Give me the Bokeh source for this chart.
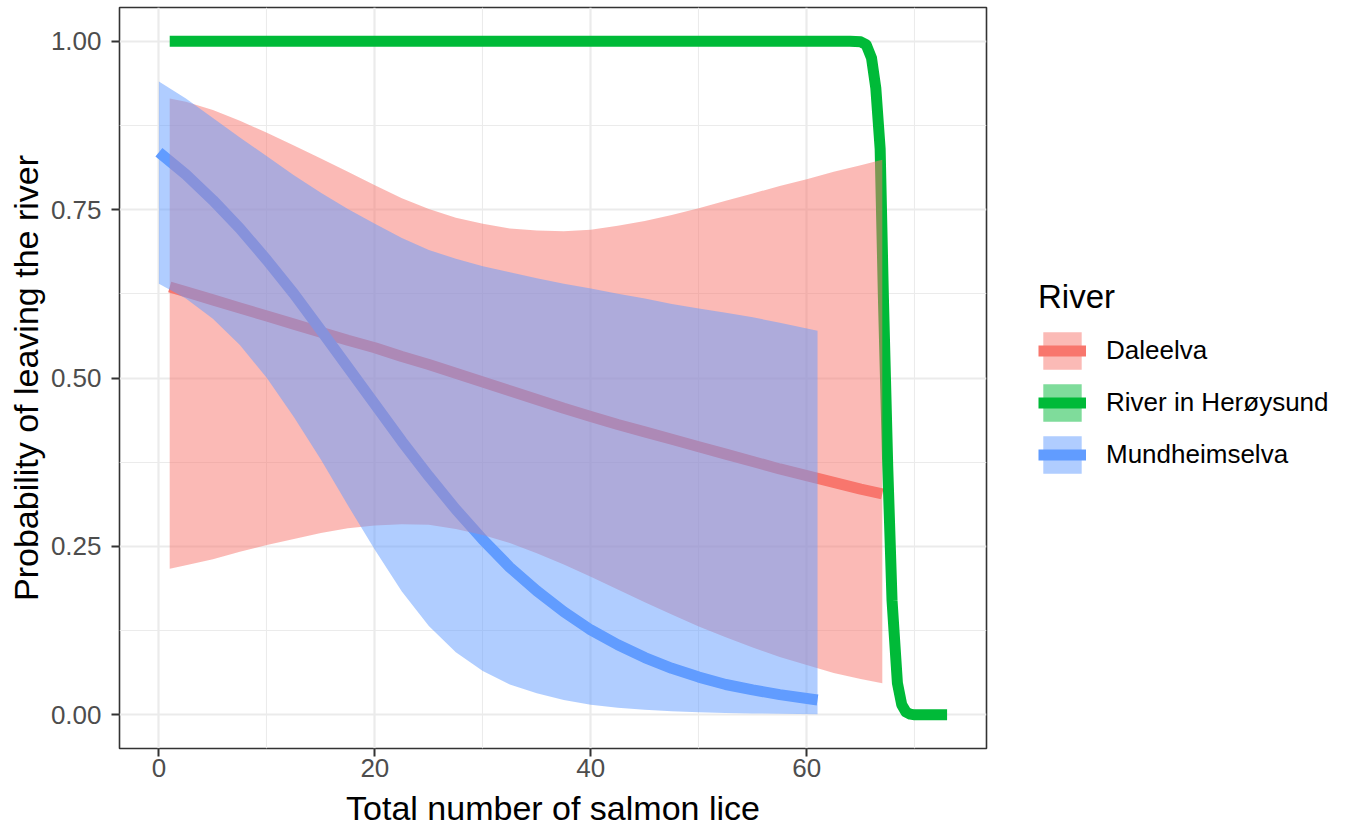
from bokeh.plotting import figure
from bokeh.layouts import row
from bokeh.models import (Range1d, FixedTicker, NumeralTickFormatter, Legend, LegendItem)
from bokeh.embed import file_html
from bokeh.resources import INLINE

# ---------------- data ----------------
rivers = ["Daleelva", "River in Herøysund", "Mundheimselva"]
colors = ["#F8766D", "#00BA38", "#619CFF"]

dale_x = [1, 2.5, 5, 7.5, 10, 12.5, 15, 17.5, 20, 22.5, 25, 27.5, 30, 32.5, 35,
          37.5, 40, 42.5, 45, 47.5, 50, 52.5, 55, 57.5, 60, 62.5, 65, 67]
dale_fit = [0.635, 0.628, 0.616, 0.604, 0.592, 0.580, 0.568, 0.556, 0.545, 0.532,
            0.520, 0.507, 0.494, 0.481, 0.468, 0.455, 0.443, 0.431, 0.420, 0.409,
            0.398, 0.387, 0.376, 0.365, 0.355, 0.345, 0.335, 0.328]
dale_lo = [0.217, 0.222, 0.231, 0.242, 0.252, 0.261, 0.270, 0.277, 0.281, 0.283,
           0.282, 0.276, 0.267, 0.255, 0.240, 0.223, 0.205, 0.186, 0.167, 0.149,
           0.131, 0.115, 0.100, 0.086, 0.074, 0.062, 0.053, 0.047]
dale_hi = [0.915, 0.910, 0.898, 0.882, 0.864, 0.845, 0.826, 0.806, 0.786, 0.767,
           0.751, 0.738, 0.729, 0.722, 0.719, 0.718, 0.720, 0.726, 0.733, 0.742,
           0.752, 0.763, 0.774, 0.785, 0.795, 0.806, 0.816, 0.824]

hero_x = [1, 10, 20, 30, 40, 50, 60, 64, 65, 65.5, 66, 66.4, 66.8, 67.1, 67.5,
          67.9, 68.4, 68.8, 69.2, 69.6, 70, 73]
hero_fit = [1, 1, 1, 1, 1, 1, 1, 1, 0.999, 0.995, 0.975, 0.93, 0.84, 0.62, 0.37,
            0.17, 0.047, 0.015, 0.004, 0.001, 0, 0]

mund_x = [0, 2.5, 5, 7.5, 10, 12.5, 15, 17.5, 20, 22.5, 25, 27.5, 30, 32.5, 35,
          37.5, 40, 42.5, 45, 47.5, 50, 52.5, 55, 57.5, 61]
mund_fit = [0.835, 0.802, 0.764, 0.722, 0.675, 0.625, 0.571, 0.516, 0.461, 0.406,
            0.354, 0.305, 0.260, 0.219, 0.184, 0.153, 0.126, 0.104, 0.085, 0.069,
            0.056, 0.045, 0.037, 0.030, 0.022]
mund_lo = [0.640, 0.618, 0.588, 0.549, 0.500, 0.442, 0.379, 0.311, 0.245, 0.183,
           0.132, 0.093, 0.065, 0.045, 0.032, 0.022, 0.015, 0.0105, 0.0074, 0.0052,
           0.0037, 0.0027, 0.002, 0.0015, 0.001]
mund_hi = [0.940, 0.915, 0.886, 0.857, 0.829, 0.801, 0.775, 0.751, 0.729, 0.708,
           0.690, 0.677, 0.666, 0.657, 0.648, 0.640, 0.633, 0.625, 0.618, 0.610,
           0.603, 0.597, 0.590, 0.582, 0.570]

x_ticks = [0, 20, 40, 60]
x_minor = [10, 30, 50, 70]
y_ticks = [0, 0.25, 0.5, 0.75, 1.0]
y_minor = [0.125, 0.375, 0.625, 0.875]

FONT = "Liberation Sans"

# ---------------- main panel ----------------
p = figure(width=988, height=829, output_backend="svg", toolbar_location=None,
           x_range=Range1d(-3.65, 76.65), y_range=Range1d(-0.05, 1.05),
           min_border_left=119, min_border_right=2, min_border_top=7,
           min_border_bottom=81,
           x_axis_label="Total number of salmon lice",
           y_axis_label="Probability of leaving the river")
p.background_fill_color = "white"
p.border_fill_color = "white"
p.outline_line_color = "#333333"
p.outline_line_width = 1.6

for g in (p.xgrid, p.ygrid):
    g.grid_line_color = "#EBEBEB"
    g.grid_line_width = 2.2
    g.minor_grid_line_color = "#EBEBEB"
    g.minor_grid_line_width = 1.1

p.xaxis.ticker = FixedTicker(ticks=x_ticks, minor_ticks=x_minor)
p.yaxis.ticker = FixedTicker(ticks=y_ticks, minor_ticks=y_minor)
p.yaxis.formatter = NumeralTickFormatter(format="0.00")

for ax in (p.xaxis, p.yaxis):
    ax.axis_line_color = None
    ax.major_tick_line_color = "#333333"
    ax.major_tick_line_width = 2
    ax.major_tick_out = 8
    ax.major_tick_in = 0
    ax.minor_tick_line_color = None
    ax.major_label_text_font = FONT
    ax.major_label_text_font_size = "26px"
    ax.major_label_text_color = "#4D4D4D"
    ax.axis_label_text_font = FONT
    ax.axis_label_text_font_size = "34px"
    ax.axis_label_text_font_style = "normal"
    ax.axis_label_text_color = "black"
p.xaxis.major_label_standoff = 2
p.xaxis.axis_label_standoff = 9
p.yaxis.major_label_standoff = 10
p.yaxis.axis_label_standoff = 3

LW = 11
# lines first, ribbons drawn over them (as in the reference)
p.line(dale_x, dale_fit, line_color=colors[0], line_width=LW, line_join="round")
p.line(hero_x, hero_fit, line_color=colors[1], line_width=LW, line_join="round")
p.line(mund_x, mund_fit, line_color=colors[2], line_width=LW, line_join="round")
p.varea(x=dale_x, y1=dale_lo, y2=dale_hi, fill_color=colors[0], fill_alpha=0.5)
p.varea(x=mund_x, y1=mund_lo, y2=mund_hi, fill_color=colors[2], fill_alpha=0.5)

# ---------------- legend panel ----------------
q = figure(width=361, height=829, output_backend="svg", toolbar_location=None,
           x_range=Range1d(0, 1), y_range=Range1d(0, 1),
           x_axis_location=None, y_axis_location=None, min_border=0)
q.min_border_left = 0
q.min_border_right = 0
q.min_border_top = 0
q.min_border_bottom = 0
q.xgrid.visible = False
q.ygrid.visible = False
q.outline_line_color = None
q.background_fill_color = "white"
q.border_fill_color = "white"

# key swatches: renderers with a point placed outside the visible range,
# only so that the legend can draw its keys
off = [5, 6]
items = []
for name, col in zip(rivers, colors):
    band = q.varea(x=off, y1=off, y2=off, fill_color=col, fill_alpha=0.5)
    ln = q.line(x=off, y=off, line_color=col, line_width=LW)
    items.append(LegendItem(label=name, renderers=[band, ln]))

legend = Legend(items=items, location=(50, 270), title="River",
                title_text_font=FONT, title_text_font_size="33px",
                title_text_font_style="normal", title_text_color="black",
                title_standoff=11,
                label_text_font=FONT, label_text_font_size="26px",
                label_text_color="black", label_standoff=20,
                glyph_width=48, glyph_height=47, spacing=5,
                padding=0, margin=0,
                background_fill_alpha=0, border_line_color=None)
q.add_layout(legend, "center")

layout = row(p, q, spacing=0)
open("out.html", "w").write(file_html(layout, INLINE))
